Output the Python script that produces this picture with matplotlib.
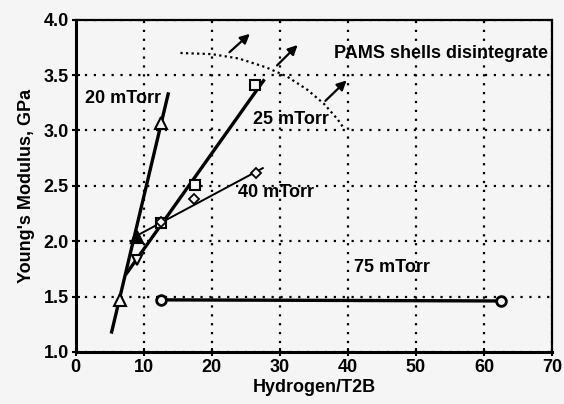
import matplotlib.pyplot as plt

plt.rcParams['font.family'] = ['Liberation Sans Narrow', 'Liberation Sans', 'DejaVu Sans']
plt.rcParams['font.weight'] = 'bold'

# measured points
h20 = [6.5, 12.6]
e20 = [1.47, 3.07]
h20_filled = [9.0]
e20_filled = [2.04]
h25 = [12.5, 17.6, 26.3]
e25 = [2.16, 2.51, 3.41]
h25b = [9.0]
e25b = [1.83]
h40 = [12.6, 17.4, 26.5]
e40 = [2.17, 2.38, 2.62]
h75 = [12.5, 62.5]
e75 = [1.47, 1.46]

# fitted lines (end points)
fit20_x = [5.3, 13.6]
fit20_y = [1.18, 3.33]
fit25_x = [7.5, 27.6]
fit25_y = [1.71, 3.45]
fit40_x = [9.3, 27.5]
fit40_y = [2.06, 2.66]

# boundary curve where shells disintegrate
curve_x = [15.4, 20, 24, 28, 31, 34, 36.5, 38.5, 39.4]
curve_y = [3.70, 3.69, 3.65, 3.57, 3.49, 3.37, 3.24, 3.10, 3.02]

arrows = [((22.3, 3.69), (25.9, 3.89)),
          ((29.3, 3.57), (32.9, 3.79)),
          ((36.4, 3.25), (40.1, 3.47))]

bg = '#f5f5f5'
fig = plt.figure(figsize=(5.64, 4.04), dpi=100, facecolor=bg)
ax = fig.add_axes([0.134, 0.129, 0.845, 0.822])
ax.set_facecolor(bg)

ax.plot(fit20_x, fit20_y, color='black', lw=2.4)
ax.plot(fit25_x, fit25_y, color='black', lw=2.4)
ax.plot(fit40_x, fit40_y, color='black', lw=1.4)
ax.plot(h75, e75, color='black', lw=2.4)

ax.plot(h20, e20, '^', mfc=bg, mec='black', mew=1.5, ms=8)
ax.plot(h20_filled, e20_filled, '^', mfc='black', mec='black', mew=1.5, ms=8)
ax.plot(h25, e25, 's', mfc=bg, mec='black', mew=1.5, ms=7)
ax.plot(h25b, e25b, 'v', mfc=bg, mec='black', mew=1.5, ms=7)
ax.plot(h40, e40, 'D', mfc=bg, mec='black', mew=1.3, ms=5.5)
ax.plot(h75, e75, 'o', mfc=bg, mec='black', mew=2, ms=7)

ax.plot(curve_x, curve_y, color='black', lw=1.6, ls=(0, (1, 1.5)))
for start, end in arrows:
    ax.annotate('', xy=end, xytext=start,
                arrowprops=dict(arrowstyle='-|>', color='black', lw=1.6, mutation_scale=14))

ax.text(7.0, 3.29, '20 mTorr', fontsize=13, ha='center', va='center')
ax.text(31.7, 3.10, '25 mTorr', fontsize=13, ha='center', va='center')
ax.text(29.5, 2.44, '40 mTorr', fontsize=13, ha='center', va='center')
ax.text(46.5, 1.76, '75 mTorr', fontsize=13, ha='center', va='center')
ax.text(53.6, 3.70, 'PAMS shells disintegrate', fontsize=13, ha='center', va='center')

ax.set_xlim(0, 70)
ax.set_ylim(1.0, 4.0)
ax.set_xticks(range(0, 71, 10))
ax.set_yticks([1.0, 1.5, 2.0, 2.5, 3.0, 3.5, 4.0])
ax.set_yticklabels(['1.0', '1.5', '2.0', '2.5', '3.0', '3.5', '4.0'])
ax.tick_params(direction='inout', length=6, width=1.5, labelsize=13, pad=2)
for lbl in ax.get_xticklabels() + ax.get_yticklabels():
    lbl.set_fontweight('bold')
ax.grid(True, color='black', ls=(0, (1, 3)), lw=1.6)
for side in ['left', 'bottom']:
    ax.spines[side].set_linewidth(2.2)
for side in ['right', 'top']:
    ax.spines[side].set_linewidth(1.6)

ax.set_xlabel('Hydrogen/T2B', fontsize=13, fontweight='bold', labelpad=2)
ax.set_ylabel("Young's Modulus, GPa", fontsize=13, fontweight='bold', labelpad=6)

fig.savefig('out.png', dpi=100, facecolor=fig.get_facecolor())
